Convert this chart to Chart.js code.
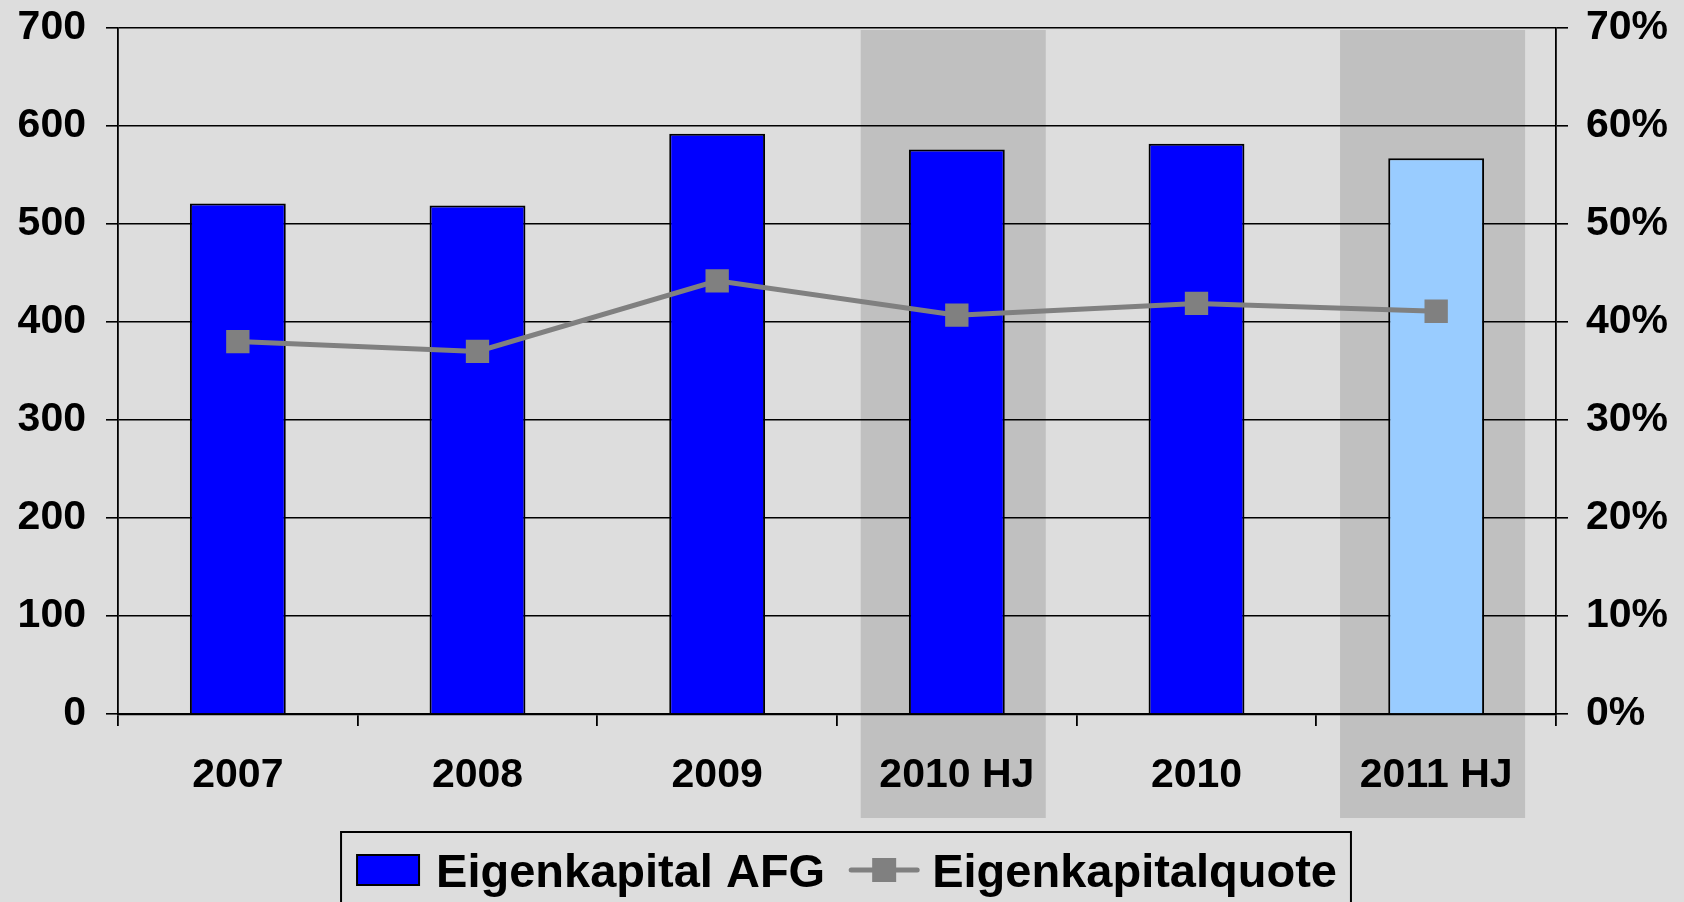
<!DOCTYPE html>
<html><head><meta charset="utf-8">
<script src="https://cdn.jsdelivr.net/npm/chart.js@4/dist/chart.umd.min.js"></script>
<style>html,body{margin:0;padding:0;background:#DDDDDD;overflow:hidden;}#wrap{width:1684px;height:902px;position:relative;}</style>
</head><body><div id="wrap"><canvas id="c" width="1684" height="902"></canvas></div>
<script>
// ---- data ----
const categories = ['2007', '2008', '2009', '2010 HJ', '2010', '2011 HJ'];
const eigenkapitalAFG = [521, 519, 592, 576, 582, 567];
const eigenkapitalquote = [38.0, 37.0, 44.2, 40.7, 41.9, 41.1];
const highlighted = [false, false, false, true, false, true];
const leftTickLabels = ['0', '100', '200', '300', '400', '500', '600', '700'];
const rightTickLabels = ['0%', '10%', '20%', '30%', '40%', '50%', '60%', '70%'];
const seriesNames = ['Eigenkapital AFG', 'Eigenkapitalquote'];

const BLUE = '#0000FF', LIGHT = '#99CCFF', GREY = '#808080', BAND = '#C0C0C0', BG = '#DDDDDD';
const barColors = categories.map((c, i) => (i === categories.length - 1 ? LIGHT : BLUE));
const FONT = '"Liberation Sans", Arial, sans-serif';

const bandPlugin = {
  id: 'bands',
  beforeDraw(chart) {
    const ctx = chart.ctx, ca = chart.chartArea, x = chart.scales.x;
    ctx.save();
    ctx.fillStyle = BG;
    ctx.fillRect(0, 0, chart.width, chart.height);
    const cw = (x.right - x.left) / categories.length;
    ctx.fillStyle = BAND;
    highlighted.forEach((h, i) => {
      if (!h) return;
      const cx = x.getPixelForValue(i) - cw * 0.015;
      const half = cw * 0.386;
      ctx.fillRect(cx - half, ca.top + 2, half * 2, ca.bottom + 104 - (ca.top + 2));
    });
    ctx.restore();
  }
};

const legendPlugin = {
  id: 'boxLegend',
  afterDraw(chart) {
    const ctx = chart.ctx, ca = chart.chartArea;
    ctx.save();
    ctx.font = 'bold 47px ' + FONT;
    const w0 = ctx.measureText(seriesNames[0]).width;
    const w1 = ctx.measureText(seriesNames[1]).width;
    const swW = 62, swH = 30, lineW = 70;
    const padL = 16, gap1 = 17, gap2 = 24, gap3 = 13, padR = 14;
    const total = padL + swW + gap1 + w0 + gap2 + lineW + gap3 + w1 + padR;
    const left = chart.width / 2 + 4 - total / 2;
    const top = ca.bottom + 118;
    ctx.strokeStyle = '#000';
    ctx.lineWidth = 2;
    ctx.strokeRect(left, top, total, chart.height - top + 20);
    const cy = top + 38;
    let xx = left + padL;
    ctx.fillStyle = BLUE;
    ctx.fillRect(xx, cy - swH / 2, swW, swH);
    ctx.lineWidth = 2;
    ctx.strokeRect(xx, cy - swH / 2, swW, swH);
    xx += swW + gap1;
    ctx.fillStyle = '#000';
    ctx.textBaseline = 'alphabetic';
    ctx.textAlign = 'left';
    ctx.fillText(seriesNames[0], xx, top + 54.5);
    xx += w0 + gap2;
    ctx.strokeStyle = GREY;
    ctx.lineWidth = 5;
    ctx.lineCap = 'round';
    ctx.beginPath(); ctx.moveTo(xx + 2, cy); ctx.lineTo(xx + lineW - 2, cy); ctx.stroke();
    ctx.fillStyle = GREY;
    ctx.fillRect(xx + lineW / 2 - 12, cy - 12, 24, 24);
    xx += lineW + gap3;
    ctx.fillStyle = '#000';
    ctx.fillText(seriesNames[1], xx, top + 54.5);
    ctx.restore();
  }
};

function fixV(width) {
  return function (s) { s.width = width; s.paddingTop = 0; s.paddingBottom = 0; };
}

new Chart(document.getElementById('c'), {
  type: 'bar',
  data: {
    labels: categories,
    datasets: [
      {
        type: 'line', label: seriesNames[1], data: eigenkapitalquote, yAxisID: 'y1', order: 0,
        borderColor: GREY, backgroundColor: GREY, borderWidth: 5, tension: 0,
        pointStyle: 'rect', pointRadius: 16.5, pointBorderWidth: 0, pointBackgroundColor: GREY
      },
      {
        type: 'bar', label: seriesNames[0], data: eigenkapitalAFG, yAxisID: 'y', order: 1,
        backgroundColor: barColors, borderColor: '#000', borderWidth: 2,
        barPercentage: 0.4, categoryPercentage: 1
      }
    ]
  },
  options: {
    responsive: false, animation: false, devicePixelRatio: 1,
    layout: { padding: { top: 28, left: 0, right: 0, bottom: 0 } },
    plugins: { legend: { display: false }, tooltip: { enabled: false } },
    scales: {
      x: {
        afterFit(s) { s.height = 188; s.paddingLeft = 0; s.paddingRight = 0; },
        grid: { drawOnChartArea: false, drawTicks: true, tickLength: 12, color: '#000', lineWidth: 1.8, offset: true },
        border: { display: true, color: '#000', width: 2.2 },
        ticks: { color: '#000', font: { family: FONT, size: 41, weight: 'bold' }, padding: 25, maxRotation: 0 }
      },
      y: {
        position: 'left', min: 0, max: 700,
        afterFit: fixV(118),
        grid: { color: '#000', lineWidth: 1.6, tickLength: 12, drawTicks: true },
        border: { display: true, color: '#000', width: 1.8 },
        ticks: { stepSize: 100, color: '#000', padding: 20, font: { family: FONT, size: 41, weight: 'bold' },
          callback: (v, i) => leftTickLabels[i] }
      },
      y1: {
        position: 'right', min: 0, max: 70,
        afterFit: fixV(128),
        grid: { drawOnChartArea: false, color: '#000', lineWidth: 1.6, tickLength: 12, drawTicks: true },
        border: { display: true, color: '#000', width: 1.8 },
        ticks: { stepSize: 10, color: '#000', padding: 18, font: { family: FONT, size: 41, weight: 'bold' },
          callback: (v, i) => rightTickLabels[i] }
      }
    }
  },
  plugins: [bandPlugin, legendPlugin]
});
</script></body></html>
